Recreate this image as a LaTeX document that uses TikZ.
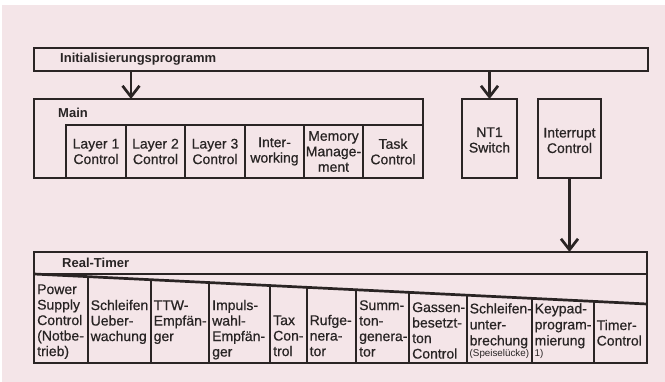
\documentclass[tikz,border=0pt]{standalone}
\usepackage{fontspec}
\setmainfont{Liberation Sans}
\newfontfamily\cellfont[FakeBold=0.6]{Liberation Sans}
\usetikzlibrary{arrows.meta}
\definecolor{bgpink}{RGB}{244,229,232}
\definecolor{ink}{RGB}{42,36,36}
\definecolor{txt}{RGB}{40,36,36}
\tikzset{
  box/.style={draw=ink, line width=2.7pt, inner sep=0pt, outer sep=0pt, anchor=north west},
  hdr/.style={font=\bfseries\fontsize{13}{15}\selectfont, text=txt, inner sep=0pt, anchor=west},
  ctext/.style={font=\cellfont\fontsize{14}{15.5}\selectfont, text=txt, inner sep=0pt, align=center},
  ltext/.style={font=\cellfont\fontsize{14}{15.5}\selectfont, text=txt, inner sep=0pt, align=left, anchor=north west},
  arr/.style={draw=ink, line width=2.7pt, -{Straight Barb[length=11pt,width=17pt,line width=2.7pt]}},
  ln/.style={draw=ink, line width=2.7pt}
}
\begin{document}
\begin{tikzpicture}[x=1pt,y=-1pt]
\useasboundingbox (0,0) rectangle (665,382);
\fill[white] (0,0) rectangle (665,382);
\fill[bgpink] (2,5) rectangle (665,382);

% Initialisierungsprogramm
\node[box, minimum width=614pt, minimum height=23pt] (init) at (34,48) {};
\node[hdr] (initt) at (60,59.5) {Initialisierungsprogramm};

% Main
\node[box, minimum width=389pt, minimum height=79pt] (main) at (34,99) {};
\node[hdr] (maint) at (58,112.5) {Main};
\coordinate (m1) at (66,125);
\draw[ln] (main.south -| m1) -- (m1) -- (m1 -| main.east);
\foreach \x in {126,185,245,304,363}{
  \draw[ln] (\x,125) -- (\x,178);
}
\node[ctext] (l1) at (96,151.5) {Layer 1\\Control};
\node[ctext] (l2) at (155.5,151.5) {Layer 2\\Control};
\node[ctext] (l3) at (215,151.5) {Layer 3\\Control};
\node[ctext] (iw) at (274.5,151.5) {Inter-\\working};
\node[ctext] (mm) at (333.5,151.5) {Memory\\Manage-\\ment};
\node[ctext] (tc) at (393,151.5) {Task\\Control};

% NT1 / Interrupt
\node[box, minimum width=55pt, minimum height=79pt] (nt1) at (462,99) {};
\node[ctext] (nt1t) at (489.5,140) {NT1\\Switch};
\node[box, minimum width=63pt, minimum height=79pt] (intr) at (538,99) {};
\node[ctext] (intrt) at (569.5,140.5) {Interrupt\\Control};

% Real-Timer
\node[box, minimum width=613pt, minimum height=111pt] (rt) at (34,252) {};
\node[hdr] (rtt) at (62,263) {Real-Timer};
\coordinate (h1) at (34,274);
\coordinate (s2) at (647,304);
\draw[ln] (h1) -- (h1 -| rt.east);
\draw[ln] (h1) -- (s2);
\foreach \x/\y in {88/276.6,151/279.7,209/282.6,270/285.5,307/287.4,356/289.8,409/292.4,467/295.2,532/298.4,594/301.4}{
  \draw[ln] (\x,\y) -- (\x,363);
}

% connectors
\coordinate (a1) at (131,0);
\coordinate (a2) at (489.5,0);
\draw[arr] (init.south -| a1) -- (main.north -| a1);
\draw[arr] (init.south -| a2) -- (nt1.north);
\draw[arr] (intr.south) -- (intr.south |- rt.north);

% bottom cell texts
\node[ltext] (b1) at (37,283) {\strut Power\\Supply\\Control\\(Notbe-\\trieb)};
\node[ltext] (b2) at (90.5,299) {\strut Schleifen\\Ueber-\\wachung};
\node[ltext] (b3) at (153.5,299) {\strut TTW-\\Empfän-\\ger};
\node[ltext] (b4) at (212,299) {\strut Impuls-\\wahl-\\Empfän-\\ger};
\node[ltext] (b5) at (273,314) {\strut Tax\\Con-\\trol};
\node[ltext] (b6) at (309.5,314) {\strut Rufge-\\nera-\\tor};
\node[ltext] (b7) at (359,299) {\strut Summ-\\ton-\\genera-\\tor};
\node[ltext] (b8) at (412,301) {\strut Gassen-\\besetzt-\\ton\\Control};
\node[ltext, font=\cellfont\fontsize{14}{16}\selectfont] (b9) at (469.5,302) {\strut Schleifen-\\unter-\\brechung};
\node[ltext, font=\fontsize{9.8}{11}\selectfont] (b9s) at (469.5,349) {(Speiselücke)};
\node[ltext, font=\cellfont\fontsize{14}{16}\selectfont] (b10) at (534.5,302) {\strut Keypad-\\program-\\mierung};
\node[ltext, font=\fontsize{9.8}{11}\selectfont] (b10s) at (534.5,349) {1)};
\node[ltext] (b11) at (596.5,319) {\strut Timer-\\Control};
\end{tikzpicture}
\end{document}
